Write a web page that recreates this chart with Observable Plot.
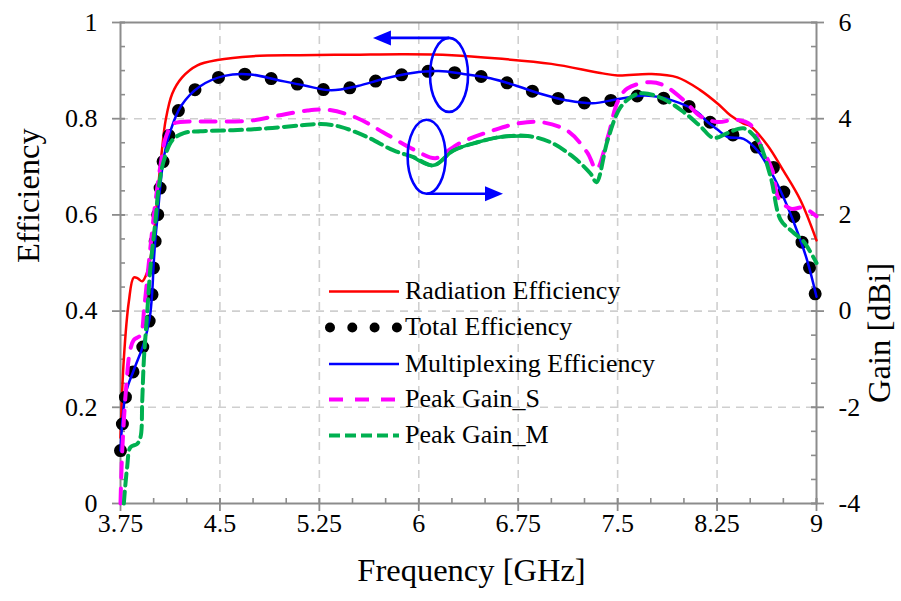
<!DOCTYPE html>
<html><head><meta charset="utf-8">
<script src="https://cdn.jsdelivr.net/npm/d3@7"></script>
<script src="https://cdn.jsdelivr.net/npm/@observablehq/plot@0.6"></script>
<style>body{margin:0;background:#fff}#chart{width:901px;height:601px}</style>
</head><body><div id="chart"></div>
<script>
// ---------------- data ----------------
const radFreq = [3.75,3.775,3.813,3.85,3.88,3.914,3.95,3.99,4.014,4.039,4.065,4.09,4.14,4.215,4.33,4.48,4.75,5.1,5.5,5.9,6.25,6.6,7.0,7.37,7.5,7.75,7.95,8.12,8.26,8.35,8.45,8.5,8.63,8.75,8.88,9.0];
const radEff  = [0.137,0.30,0.42,0.47,0.468,0.462,0.48,0.533,0.595,0.672,0.741,0.796,0.852,0.886,0.911,0.922,0.93,0.932,0.933,0.934,0.932,0.925,0.914,0.895,0.89,0.893,0.886,0.86,0.83,0.807,0.79,0.785,0.745,0.692,0.63,0.547];

const muxFreq = [3.75,3.79,3.85,3.926,3.971,3.99,4.0,4.014,4.034,4.052,4.077,4.127,4.208,4.348,4.534,4.73,4.94,5.138,5.34,5.54,5.74,5.95,6.15,6.337,6.54,6.73,6.918,7.12,7.31,7.507,7.71,7.91,8.1,8.178,8.25,8.33,8.45,8.56,8.69,8.78,8.857,8.93,9.0];
const muxEff  = [0.11,0.229,0.277,0.333,0.387,0.443,0.497,0.553,0.609,0.665,0.72,0.775,0.827,0.867,0.889,0.892,0.88,0.869,0.859,0.868,0.883,0.895,0.899,0.893,0.884,0.869,0.852,0.838,0.832,0.841,0.848,0.838,0.814,0.793,0.778,0.762,0.758,0.732,0.672,0.618,0.564,0.505,0.43];

const totFreq = [3.75,3.79,3.85,3.926,3.971,3.99,4.0,4.014,4.034,4.052,4.077,4.127,4.208,4.348,4.534,4.73,4.94,5.138,5.34,5.54,5.74,5.95,6.15,6.337,6.54,6.73,6.918,7.12,7.31,7.507,7.71,7.91,8.125,8.253,8.442,8.6,8.713,8.78,8.857,8.91,8.97,9.0];
const totEff  = [0.11,0.225,0.278,0.332,0.387,0.443,0.497,0.554,0.609,0.665,0.72,0.775,0.827,0.868,0.889,0.892,0.88,0.869,0.859,0.868,0.883,0.895,0.899,0.893,0.884,0.869,0.852,0.838,0.832,0.841,0.848,0.838,0.813,0.778,0.759,0.728,0.678,0.626,0.578,0.522,0.468,0.415];

const gainSFreq = [3.75,3.76,3.775,3.795,3.82,3.85,3.9,3.93,3.96,3.99,4.015,4.05,4.09,4.14,4.2,4.35,4.73,4.93,5.16,5.33,5.53,5.73,5.96,6.126,6.214,6.315,6.564,6.745,6.918,7.12,7.27,7.34,7.424,7.5,7.574,7.75,7.85,8.0,8.125,8.257,8.39,8.5,8.577,8.668,8.713,8.804,8.9,9.0];
const gainS     = [-4.0,-3.1,-2.3,-1.5,-0.85,-0.6,-0.5,0.1,0.9,1.7,2.3,3.0,3.6,3.88,3.93,3.94,3.96,4.06,4.17,4.18,4.02,3.72,3.36,3.18,3.32,3.5,3.76,3.9,3.93,3.75,3.3,2.95,3.6,4.35,4.63,4.76,4.69,4.38,4.05,3.93,3.98,3.88,3.45,2.92,2.35,2.13,2.15,1.97];

const gainMFreq = [3.775,3.80,3.825,3.876,3.901,3.914,3.926,3.951,3.976,4.014,4.039,4.077,4.14,4.227,4.353,4.6,4.86,5.108,5.26,5.41,5.61,5.81,5.96,6.111,6.262,6.443,6.616,6.82,6.994,7.167,7.295,7.34,7.424,7.522,7.62,7.695,7.846,7.997,8.125,8.223,8.328,8.45,8.555,8.653,8.729,8.819,8.902,9.0];
const gainM     = [-4.0,-3.25,-2.83,-2.76,-2.62,-1.86,-1.03,-0.05,0.91,1.88,2.58,3.13,3.55,3.7,3.74,3.76,3.8,3.86,3.89,3.83,3.62,3.34,3.2,3.03,3.34,3.51,3.62,3.64,3.51,3.2,2.86,2.68,3.55,4.24,4.48,4.53,4.41,4.14,3.84,3.6,3.7,3.8,3.55,2.8,1.9,1.65,1.45,1.0];
const gainMSolidRange = [5.91, 6.82];

const xTicks = [3.75,4.5,5.25,6,6.75,7.5,8.25,9];
const xTickLabels = ["3.75","4.5","5.25","6","6.75","7.5","8.25","9"];
const effTicks = [0,0.2,0.4,0.6,0.8,1];
const effTickLabels = ["0","0.2","0.4","0.6","0.8","1"];
const gainTicks = [-4,-2,0,2,4,6];
const gainTickLabels = ["-4","-2","0","2","4","6"];
const gainDomain = [-4, 6];

const seriesNames = ["Radiation Efficiency","Total Efficiency","Multiplexing Efficiency","Peak Gain_S","Peak Gain_M"];

// ---------------- helpers ----------------
const g2e = g => (g - gainDomain[0]) / (gainDomain[1] - gainDomain[0]);
const zip = (fs, vs) => fs.map((f, i) => ({f, v: vs[i]}));
const rad = zip(radFreq, radEff);
const mux = zip(muxFreq, muxEff);
const tot = zip(totFreq, totEff);
const gS = zip(gainSFreq, gainS.map(g2e));
const gM = zip(gainMFreq, gainM.map(g2e));
const gMSolid = gM.filter(d => d.f >= gainMSolidRange[0] && d.f <= gainMSolidRange[1]);
const gainTickPos = gainTicks.map(g2e);

const xMinor = d3.range(0, 22).map(i => 3.75 + i * 0.25);
const yMinor = d3.range(0, 21).map(i => i * 0.05);

const AX = "#8c8c8c";
const GRID = "#cfcfcf";
const curve = "catmull-rom";
const FONT = "'Liberation Serif','Times New Roman',serif";
const TICKFS = 26, TITLEFS = 32.5, LEGFS = 26;

const plot = Plot.plot({
  width: 901, height: 601,
  marginLeft: 120, marginRight: 85, marginTop: 22, marginBottom: 98,
  style: {fontFamily: FONT, fontSize: "26px", background: "white", color: "black"},
  x: {type: "linear", domain: [3.75, 9], label: null},
  y: {type: "linear", domain: [0, 1], label: null},
  marks: [
    Plot.gridX(xTicks.slice(1, -1), {stroke: GRID, strokeOpacity: 1, strokeWidth: 1.6, strokeDasharray: "8,6"}),
    Plot.gridY(effTicks.slice(1, -1), {stroke: GRID, strokeOpacity: 1, strokeWidth: 1.6, strokeDasharray: "8,6"}),
    Plot.axisX(xMinor, {anchor: "bottom", tickSize: 5, dy: -5, tickFormat: () => "", stroke: AX, strokeWidth: 1.6, label: null}),
    Plot.axisX(xTicks, {anchor: "bottom", tickSize: 13, dy: -5, tickFormat: () => "", stroke: AX, strokeWidth: 1.8, label: null}),
    Plot.axisX(xTicks, {anchor: "bottom", tickSize: 0, tickPadding: 10, tickFormat: d => xTickLabels[xTicks.indexOf(d)], fontSize: TICKFS, fill: "black", label: null}),
    Plot.axisY(yMinor, {anchor: "left", tickSize: 5, dx: 5, tickFormat: () => "", stroke: AX, strokeWidth: 1.6, label: null}),
    Plot.axisY(effTicks, {anchor: "left", tickSize: 13, dx: 5, tickFormat: () => "", stroke: AX, strokeWidth: 1.8, label: null}),
    Plot.axisY(effTicks, {anchor: "left", tickSize: 0, tickPadding: 23, tickFormat: d => effTickLabels[effTicks.indexOf(d)], fontSize: TICKFS, fill: "black", label: null}),
    Plot.axisY(yMinor, {anchor: "right", tickSize: 6, dx: -6, tickFormat: () => "", stroke: AX, strokeWidth: 1.6, label: null}),
    Plot.axisY(gainTickPos, {anchor: "right", tickSize: 13, dx: -6, tickFormat: () => "", stroke: AX, strokeWidth: 1.8, label: null}),
    Plot.axisY(gainTickPos, {anchor: "right", tickSize: 0, tickPadding: 22, tickFormat: d => gainTickLabels[gainTickPos.findIndex(t => Math.abs(t - d) < 1e-9)], fontSize: TICKFS, fill: "black", label: null}),
    Plot.frame({stroke: AX, strokeWidth: 2}),
    Plot.line(rad, {x: "f", y: "v", stroke: "#ff0000", strokeWidth: 2.5, curve}),
    Plot.line(tot, {x: "f", y: "v", stroke: "#000000", strokeWidth: 13, strokeDasharray: "0,26.7", strokeLinecap: "round", curve}),
    Plot.line(mux, {x: "f", y: "v", stroke: "#0000ff", strokeWidth: 2.5, curve}),
    Plot.line(gS, {x: "f", y: "v", stroke: "#ff00ff", strokeWidth: 4, strokeDasharray: "15,11", curve}),
    Plot.line(gM, {x: "f", y: "v", stroke: "#00b050", strokeWidth: 4, strokeDasharray: "12,6", curve}),
    Plot.line(gMSolid, {x: "f", y: "v", stroke: "#00b050", strokeWidth: 3.5, curve}),
    Plot.text(["Efficiency"], {frameAnchor: "left", dx: -92, rotate: -90, fontSize: TITLEFS, fill: "black"}),
    Plot.text(["Gain [dBi]"], {frameAnchor: "right", dx: 63, rotate: -90, fontSize: TITLEFS, fill: "black"}),
    Plot.text(["Frequency [GHz]"], {frameAnchor: "bottom", dy: 77, dx: 3, fontSize: TITLEFS, fill: "black"})
  ]
});
document.getElementById("chart").appendChild(plot);

// ---------------- annotations & legend ----------------
const sx = plot.scale("x"), sy = plot.scale("y");
const svg = d3.select(plot);
const ann = svg.append("g").attr("fill", "none").attr("stroke", "#0000ff").attr("stroke-width", 2.6);
const ellipses = [{f: 6.232, e: 0.89, tipF: 5.658, top: true}, {f: 6.063, e: 0.72, tipF: 6.639, top: false}];
const RX = 19, RY = 37;
ellipses.forEach(a => {
  const cx = sx.apply(a.f), cy = sy.apply(a.e);
  ann.append("ellipse").attr("cx", cx).attr("cy", cy).attr("rx", RX).attr("ry", RY);
  const ay = a.top ? cy - RY : cy + RY;
  const tx = sx.apply(a.tipF);
  const dir = tx < cx ? -1 : 1;
  ann.append("line").attr("x1", cx).attr("y1", ay).attr("x2", tx - dir * 14).attr("y2", ay);
  ann.append("path").attr("d", `M${tx},${ay} L${tx - dir * 18},${ay - 7.5} L${tx - dir * 18},${ay + 7.5} Z`).attr("fill", "#0000ff").attr("stroke", "none");
});

const lg = svg.append("g").attr("font-family", FONT).attr("font-size", LEGFS).attr("text-anchor", "start");
const rowY = [299, 335, 371.5, 407, 443];
const lx1 = 329, lx2 = 399, ltx = 405;
const styles = [
  {stroke: "#ff0000", w: 2.5},
  {stroke: "#000", w: 10, dash: "0,22.3", cap: "round", x1: 330, x2: 397.5},
  {stroke: "#0000ff", w: 2.5},
  {stroke: "#ff00ff", w: 4, dash: "14,12"},
  {stroke: "#00b050", w: 4, dash: "11,5"}
];
seriesNames.forEach((name, i) => {
  const s = styles[i];
  const y = rowY[i] - 7.5;
  lg.append("line").attr("x1", s.x1 ?? lx1).attr("x2", s.x2 ?? lx2).attr("y1", y).attr("y2", y)
    .attr("stroke", s.stroke).attr("stroke-width", s.w)
    .attr("stroke-dasharray", s.dash || null).attr("stroke-linecap", s.cap || "butt");
  lg.append("text").attr("x", ltx).attr("y", rowY[i]).attr("fill", "black").attr("text-anchor", "start").text(name);
});
</script>
</body></html>
